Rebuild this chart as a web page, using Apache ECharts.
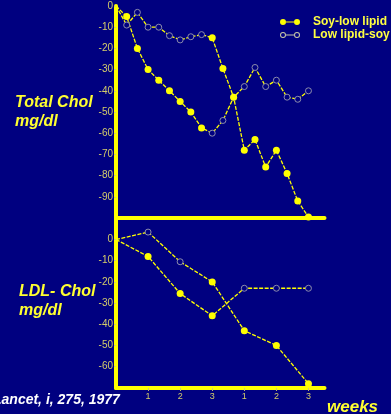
<!DOCTYPE html>
<html>
<head>
<meta charset="utf-8">
<script src="https://cdn.jsdelivr.net/npm/echarts@6/dist/echarts.min.js"></script>
<style>
html,body{margin:0;padding:0;background:#000080;}
#c{width:391px;height:414px;}
</style>
</head>
<body>
<div id="c"></div>
<script>
// ---- data ----
const weeksTop = [0, 0.333, 0.667, 1, 1.333, 1.667, 2, 2.333, 2.667, 3, 3.333, 3.667, 4, 4.333, 4.667, 5, 5.333, 5.667, 6];
const totalSoyLow = [0, -5, -20, -30, -35, -40, -45, -50, -57.5, -60, -54, -43, -38, -29, -38, -35, -43, -44, -40];
const totalLowSoy = [0, -9, -3, -10, -10, -14, -16, -14.5, -13.5, -15, -29.5, -43, -68, -63, -76, -68, -79, -92, -99.5];
const markSoyLowTop = ['n','f','f','f','f','f','f','f','f','o','o','o','o','o','o','o','o','o','o'];
const markLowSoyTop = ['n','o','o','o','o','o','o','o','o','f','f','f','f','f','f','f','f','f','f'];

const weeksLdl = [0, 1, 2, 3, 4, 5, 6];
const ldlSoyLow = [0, -8, -25.5, -36, -23, -23, -23];
const ldlLowSoy = [0, 3.5, -10.5, -20, -43, -50, -68];
const markSoyLowLdl = ['n','f','f','f','o','o','o'];
const markLowSoyLdl = ['n','o','o','f','f','f','f'];

const weekTickLabels = ['', '1', '2', '3', '1', '2', '3'];
const totalTicks = [0, -10, -20, -30, -40, -50, -60, -70, -80, -90];
const ldlTicks = [0, -10, -20, -30, -40, -50, -60];
const seriesNames = ['Soy-low lipid', 'Low lipid-soy'];

// ---- styles ----
const YEL = '#ffff00';
const DIM = '#d4cc6a';
const BG = '#000080';
const OPEN = '#8c8cac';
const FONT = '"Liberation Sans", Arial, sans-serif';

function pts(xs, ys, marks) {
  return xs.map((x, i) => {
    const m = marks[i];
    if (m === 'n') return { value: [x, ys[i]], symbolSize: 0 };
    if (m === 'f') return { value: [x, ys[i]], symbolSize: 7, itemStyle: { color: YEL, borderColor: YEL, borderWidth: 0 } };
    return { value: [x, ys[i]], symbolSize: 6, itemStyle: { color: BG, borderColor: OPEN, borderWidth: 1 } };
  });
}

function lineSeries(name, xi, data) {
  return {
    name: name, type: 'line', xAxisIndex: xi, yAxisIndex: xi,
    data: data, symbol: 'circle', showSymbol: true,
    lineStyle: { color: YEL, width: 1.3, type: [4, 1.5] },
    itemStyle: { color: YEL },
    emphasis: { disabled: true }, animation: false, z: 3
  };
}

function yAxis(gi, min, max, ticks) {
  return {
    type: 'value', gridIndex: gi, min: min, max: max, interval: 10,
    axisLine: { show: true, onZero: false, lineStyle: { color: YEL, width: 4 } },
    axisTick: { show: true, length: 2, customValues: ticks, lineStyle: { color: DIM } },
    axisLabel: {
      customValues: ticks, color: DIM, fontSize: 10, fontFamily: FONT, margin: 3,
      formatter: v => v === 0 ? '0' : '-' + Math.abs(v)
    },
    splitLine: { show: false }
  };
}

const filledIcon = 'path://M0,3A3,3,0,1,1,6,3A3,3,0,1,1,0,3Z M6,2.5L14,2.5L14,3.5L6,3.5Z M14,3A3,3,0,1,1,20,3A3,3,0,1,1,14,3Z';
const openIcon = 'path://M0,3A3,3,0,1,1,6,3A3,3,0,1,1,0,3Z M1,3A2,2,0,1,0,5,3A2,2,0,1,0,1,3Z M6,2.5L14,2.5L14,3.5L6,3.5Z M14,3A3,3,0,1,1,20,3A3,3,0,1,1,14,3Z M15,3A2,2,0,1,0,19,3A2,2,0,1,0,15,3Z';

const chart = echarts.init(document.getElementById('c'), null, { renderer: 'canvas' });
chart.setOption({
  backgroundColor: BG,
  animation: false,
  grid: [
    { left: 116, top: 6, width: 208.5, height: 212 },
    { left: 116, top: 218.3, width: 208.5, height: 169.6 }
  ],
  xAxis: [
    { type: 'value', gridIndex: 0, min: 0, max: 6.5, interval: 1,
      axisLine: { show: true, onZero: false, lineStyle: { color: YEL, width: 4 } },
      axisTick: { show: false }, axisLabel: { show: false }, splitLine: { show: false } },
    { type: 'value', gridIndex: 1, min: 0, max: 6.5, interval: 1,
      axisLine: { show: true, onZero: false, lineStyle: { color: YEL, width: 4 } },
      axisTick: { show: true, length: 3, customValues: [1, 2, 3, 4, 5, 6], lineStyle: { color: DIM } },
      axisLabel: { customValues: [1, 2, 3, 4, 5, 6], color: DIM, fontSize: 9, fontFamily: FONT, margin: 4,
        formatter: v => weekTickLabels[Math.round(v)] || '' },
      splitLine: { show: false } }
  ],
  yAxis: [
    yAxis(0, -100, 0, totalTicks),
    yAxis(1, -70, 10, ldlTicks)
  ],
  legend: {
    orient: 'vertical', left: 275, top: 11, itemWidth: 20, itemHeight: 6, itemGap: 1,
    selectedMode: false,
    textStyle: { color: '#ffff40', fontFamily: FONT, fontWeight: 'bold', fontSize: 12, lineHeight: 12, padding: [0, 0, 0, 8] },
    data: [
      { name: seriesNames[0], icon: filledIcon, itemStyle: { color: YEL } },
      { name: seriesNames[1], icon: openIcon, itemStyle: { color: '#c8c8a8' } }
    ]
  },
  series: [
    lineSeries(seriesNames[0], 0, pts(weeksTop, totalSoyLow, markSoyLowTop)),
    lineSeries(seriesNames[1], 0, pts(weeksTop, totalLowSoy, markLowSoyTop)),
    lineSeries(seriesNames[0], 1, pts(weeksLdl, ldlSoyLow, markSoyLowLdl)),
    lineSeries(seriesNames[1], 1, pts(weeksLdl, ldlLowSoy, markLowSoyLdl))
  ],
  graphic: [
    { type: 'text', left: 15, top: 95, style: { text: 'Total Chol', font: 'italic bold 16px ' + FONT, fill: '#ffff30' } },
    { type: 'text', left: 15, top: 114, style: { text: 'mg/dl', font: 'italic bold 16px ' + FONT, fill: '#ffff30' } },
    { type: 'text', left: 19, top: 284, style: { text: 'LDL- Chol', font: 'italic bold 16px ' + FONT, fill: '#ffff30' } },
    { type: 'text', left: 19, top: 303, style: { text: 'mg/dl', font: 'italic bold 16px ' + FONT, fill: '#ffff30' } },
    { type: 'text', x: -7, y: 393, style: { text: 'Lancet, i, 275, 1977', font: 'italic bold 14px ' + FONT, fill: '#ffffff' } },
    { type: 'text', left: 327, top: 399, style: { text: 'weeks', font: 'italic bold 17px ' + FONT, fill: '#ffff30' } }
  ]
});
</script>
</body>
</html>
